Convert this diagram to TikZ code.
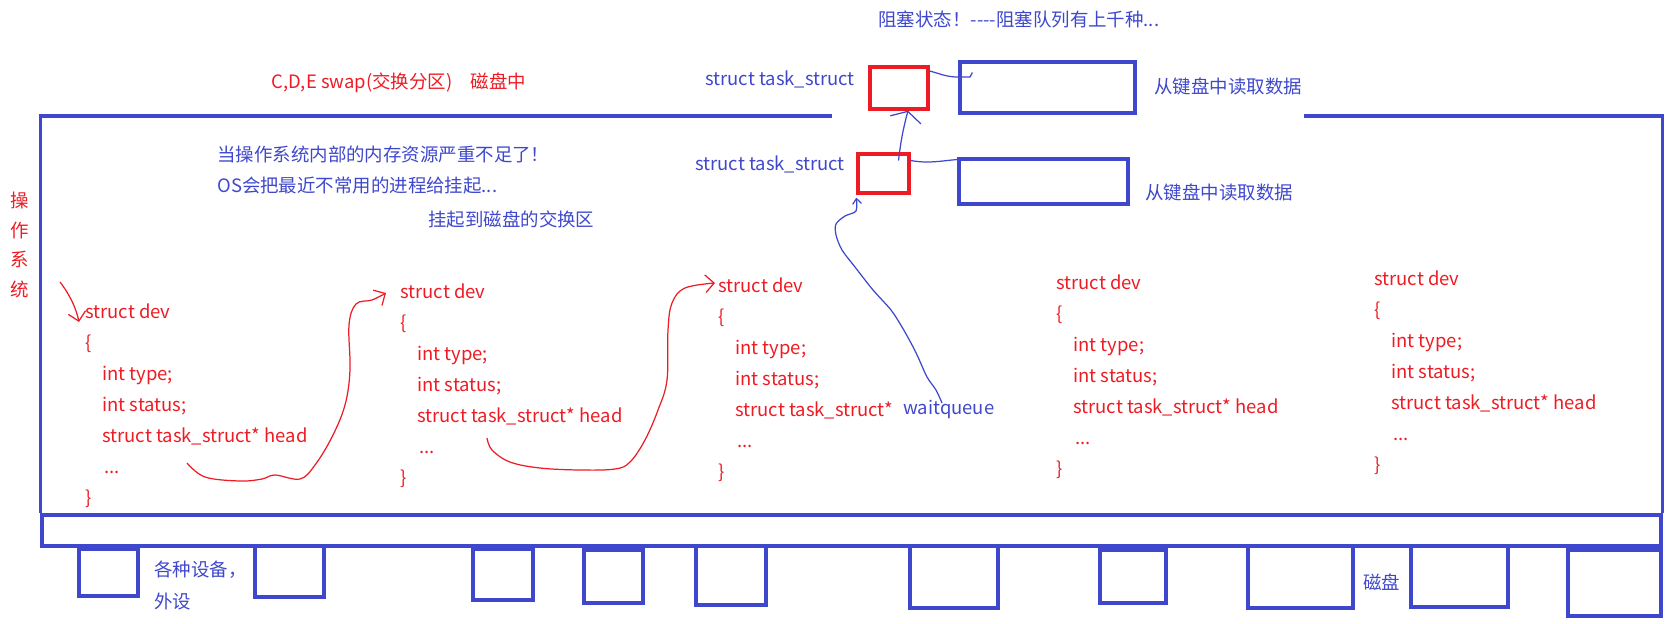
\documentclass[tikz,border=0pt]{standalone}
\usepackage{fontspec}
\setmainfont{Noto Sans CJK SC}
\usetikzlibrary{arrows.meta}

\definecolor{penblue}{RGB}{63,72,204}
\definecolor{penred}{RGB}{237,28,36}

% one struct dev block: name, x, baseline of first line, head field
\newcommand{\devblock}[4]{
	\node[code] (#1n) at (#2,#3) {struct dev};
	\node[code] (#1o) at (#2,#3+31) {\{};
	\node[code] (#1t) at (#2+17,#3+62) {int type;};
	\node[code] (#1s) at (#2+17,#3+93) {int status;};
	\node[code] (#1h) at (#2+17,#3+124) {#4};
	\node[code] (#1d) at (#2+19,#3+155) {...};
	\node[code] (#1c) at (#2,#3+186) {\}};
}

\begin{document}
\begin{tikzpicture}[x=0.02cm, y=-0.02cm,
	code/.style={anchor=base west, inner sep=0pt, text=penred, font=\fontsize{10.5}{12}\selectfont},
	note/.style={code, text=penblue},
	frame/.style={draw=penblue, line width=1.9pt},
	redbox/.style={draw=penred, line width=1.9pt, inner sep=0pt},
	bluebox/.style={frame, inner sep=0pt},
	redpen/.style={draw=penred, line width=0.7pt},
	bluepen/.style={draw=penblue, line width=0.7pt},
	>={Straight Barb[length=5pt,width=10pt]}]
	\useasboundingbox (0,0) rectangle (1676,623);

	% operating system frame and device bus
	\node[bluebox, minimum width=32.38cm, minimum height=0.62cm] (bus) at (851.5,530.5) {};
	\draw[frame] (832,116) -| (bus.north west);
	\draw[frame] (1304,116) -| (bus.north east);
	\foreach \xa/\xb/\ya/\yb in {79/138/549/596, 255/324/546/597, 473/533/549/600, 584/643/550/603, 696/766/546/605,
		910/998/546/608, 1100/1166/550/603, 1248/1353/546/608, 1411/1508/546/607, 1568/1661/550/616}
		\draw[frame] (\xa,\ya) rectangle (\xb,\yb);

	% labels
	\node[note] (block) at (878,26) {阻塞状态！-{}-{}-{}-阻塞队列有上千种...};
	\node[code] (swap) at (271,88) {C,D,E swap(交换分区)\quad 磁盘中};
	\node[code, anchor=center, align=center, font=\fontsize{10.5}{17}\selectfont] (os) at (20,245) {操\\作\\系\\统};
	\node[note] (mem) at (217,161) {当操作系统内部的内存资源严重不足了！};
	\node[note] (susp) at (217,192) {OS会把最近不常用的进程给挂起...};
	\node[note] (toswap) at (428,226) {挂起到磁盘的交换区};
	\node[note] (devs1) at (154,576) {各种设备，};
	\node[note] (devs2) at (154,608) {外设};
	\node[note] (disk) at (1363,589) {磁盘};

	% waiting task_structs
	\node[note] (tsk1lbl) at (705,85) {struct task\_struct};
	\node[redbox, minimum width=1.16cm, minimum height=0.84cm] (tsk1) at (899,88) {};
	\node[bluebox, minimum width=3.5cm, minimum height=1.02cm] (buf1) at (1047.5,87.5) {};
	\node[note] (read1) at (1154,93) {从键盘中读取数据};
	\node[note] (tsk2lbl) at (695,170) {struct task\_struct};
	\node[redbox, minimum width=1.02cm, minimum height=0.78cm] (tsk2) at (883.5,173.5) {};
	\node[bluebox, minimum width=3.38cm, minimum height=0.9cm] (buf2) at (1043.5,181.5) {};
	\node[note] (read2) at (1145,199) {从键盘中读取数据};

	% device structs
	\devblock{d1}{85}{318}{struct task\_struct* head}
	\devblock{d2}{400}{298}{struct task\_struct* head}
	\devblock{d3}{718}{292}{struct task\_struct*}
	\devblock{d4}{1056}{289}{struct task\_struct* head}
	\devblock{d5}{1374}{285}{struct task\_struct* head}
	\node[note] (wq) at (903,414) {waitqueue};

	% red links between devices
	\coordinate (hook) at (60,282);
	\draw[redpen, ->] (hook) .. controls (70,295) and (76,308) .. ([shift={(-6,4)}]d1n.base west);
	\coordinate (b1) at ([shift={(85,21)}]d1h.base west);
	\coordinate (b2) at ([shift={(-14,-5)}]d2n.base west);
	\draw[redpen, ->] plot[smooth, tension=0.6] coordinates {(b1) (205,477) (240,481) (262,479) (275,475) (300,479)
		(315,465) (332,437) (345,405) (350,370) (349,325) (356,304) (372,300) (b2)};
	\coordinate (c1) at ([shift={(70,16)}]d2h.base west);
	\coordinate (c2) at ([shift={(-3,-9)}]d3n.base west);
	\draw[redpen, ->] plot[smooth, tension=0.6] coordinates {(c1) (492,450) (510,462) (540,468) (580,470) (615,469)
		(630,462) (645,440) (658,410) (667,380) (668,330) (672,303) (685,288) (c2)};

	% blue links of the wait queue
	\coordinate (w1) at ([shift={(39,-11)}]wq.base west);
	\coordinate (w2) at ([shift={(0,3)}]tsk2.south west);
	\draw[bluepen, -{Straight Barb[length=3pt,width=5pt]}] plot[smooth, tension=0.5] coordinates {(w1) (936,390) (927,377)
		(918,357) (911,343) (902,327) (891,310) (873,290) (855,267) (842,250) (836,235) (836,224) (845,216) (856,211) (w2)};
	\draw[bluepen, -{Straight Barb[length=5pt,width=18pt]}] ([shift={(15,-13)}]tsk2.center) to[bend left=4] ([shift={(9,0)}]tsk1.south);
	\draw[bluepen] ([shift={(0,-17)}]tsk1.east) to[out=-15,in=180] (958,77) -- (970,77) -- ([shift={(14,-15)}]buf1.west);
	\draw[bluepen] ([shift={(0,-13)}]tsk2.east) to[out=-10,in=185] ([shift={(0,-22)}]buf2.west);
\end{tikzpicture}
\end{document}
